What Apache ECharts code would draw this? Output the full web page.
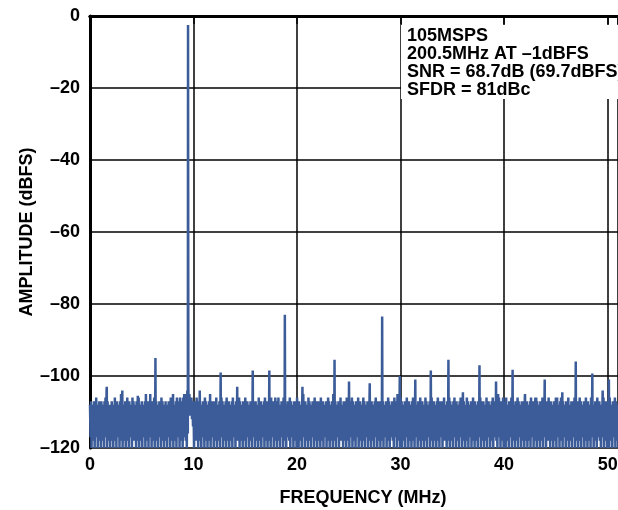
<!DOCTYPE html>
<html><head><meta charset="utf-8">
<script src="https://cdn.jsdelivr.net/npm/echarts@6/dist/echarts.min.js"></script>
<style>html,body{margin:0;padding:0;background:#fff}#c{width:618px;height:510px}</style>
</head><body><div id="c"></div>
<script>
// noise floor: upper points at i*0.1 MHz, lower points at i*0.1+0.05 MHz
const noiseStep = 0.1;
const noiseHigh = [
-108,-107,-108,-109,-107,-108,-106,-108,-109,-107,-108,-107,-109,-108,-107,-106,-104,-107,-108,-109,
-108,-107,-109,-108,-106,-108,-107,-109,-108,-107,-105,-107,-108,-109,-107,-108,-106,-108,-107,-109,
-108,-106,-107,-109,-108,-107,-108,-106,-109,-108,-107,-108,-109,-107,-105,-108,-107,-108,-109,-107,
-108,-107,-106,-108,-107,-109,-108,-107,-108,-106,-107,-109,-108,-107,-108,-109,-107,-108,-106,-108,
-107,-108,-109,-107,-106,-108,-107,-106,-108,-107,-106,-105,-107,-105,-104,-103,-105,-107,-106,-107,
-108,-107,-109,-106,-108,-107,-104,-108,-109,-107,-108,-106,-107,-108,-109,-107,-105,-108,-107,-108,
-107,-108,-106,-109,-108,-107,-108,-106,-107,-109,-108,-107,-106,-108,-107,-109,-108,-107,-106,-108,
-108,-107,-109,-108,-106,-107,-108,-109,-107,-108,-106,-108,-107,-109,-108,-107,-108,-106,-107,-108,
-107,-108,-109,-106,-108,-107,-108,-109,-107,-106,-108,-107,-109,-108,-107,-106,-108,-107,-108,-106,
-108,-107,-106,-108,-109,-107,-108,-106,-107,-108,-109,-107,-108,-106,-107,-108,-109,-107,-108,-107,
-106,-108,-107,-109,-108,-107,-105,-108,-107,-109,-108,-106,-107,-108,-109,-107,-108,-106,-108,-107,
-108,-107,-109,-106,-108,-107,-108,-109,-107,-108,-106,-107,-109,-108,-107,-105,-108,-107,-108,-109,
-107,-108,-106,-108,-109,-107,-108,-107,-106,-108,-109,-107,-108,-106,-107,-109,-108,-107,-108,-106,
-108,-107,-109,-108,-106,-107,-108,-109,-107,-108,-106,-108,-107,-109,-108,-107,-106,-108,-107,-108,
-107,-108,-106,-107,-109,-108,-107,-108,-106,-107,-108,-109,-107,-108,-106,-107,-108,-105,-107,-108,
-106,-107,-108,-109,-107,-108,-106,-108,-107,-109,-108,-107,-106,-108,-107,-108,-109,-107,-108,-106,
-108,-107,-109,-108,-106,-107,-108,-109,-107,-108,-106,-108,-107,-109,-108,-107,-106,-108,-107,-108,
-107,-108,-106,-109,-108,-107,-108,-106,-107,-109,-108,-107,-106,-108,-107,-109,-108,-107,-106,-108,
-108,-107,-109,-108,-106,-107,-108,-109,-107,-108,-106,-108,-107,-109,-108,-107,-108,-106,-107,-108,
-107,-108,-109,-106,-108,-107,-108,-109,-107,-106,-108,-107,-109,-108,-107,-106,-108,-107,-108,-106,
-108,-107,-106,-108,-109,-107,-108,-106,-107,-108,-109,-107,-108,-106,-107,-108,-109,-107,-108,-107,
-106,-108,-107,-109,-108,-107,-106,-108,-107,-109,-108,-106,-107,-108,-109,-107,-108,-106,-108,-107,
-108,-107,-109,-106,-108,-107,-108,-109,-107,-108,-106,-107,-109,-108,-107,-106,-108,-107,-108,-109,
-107,-108,-106,-108,-109,-107,-108,-107,-106,-108,-109,-107,-108,-106,-107,-109,-108,-107,-108,-106,
-108,-107,-109,-108,-106,-107,-108,-109,-107,-108,-106,-108,-107,-109,-108,-107,-106,-108,-107,-108,
-107,-108,-106,-109,-108,-107,-108,-106,-107,-109,-108
];
const noiseLow = [
-117,-120,-116,-118,-120,-117,-115,-120,-118,-116,-120,-117,-118,-120,-116,-117,-120,-118,-115,-120,
-118,-116,-120,-117,-118,-120,-116,-117,-120,-118,-115,-120,-117,-118,-120,-116,-118,-120,-117,-116,
-120,-117,-118,-116,-120,-118,-115,-120,-117,-118,-120,-116,-117,-120,-118,-116,-120,-117,-115,-120,
-118,-117,-120,-116,-118,-120,-117,-115,-120,-118,-116,-120,-117,-118,-120,-116,-117,-120,-118,-116,
-120,-117,-118,-120,-116,-117,-120,-118,-115,-120,-117,-116,-118,-120,-116,-111,-110,-111,-112,-114,
-120,-117,-118,-116,-120,-117,-118,-120,-116,-117,-120,-118,-115,-120,-117,-118,-120,-116,-117,-120,
-118,-116,-120,-117,-118,-120,-116,-117,-120,-118,-115,-120,-117,-118,-120,-116,-118,-120,-117,-116,
-120,-117,-118,-116,-120,-118,-115,-120,-117,-118,-120,-116,-117,-120,-118,-116,-120,-117,-115,-120,
-118,-117,-120,-116,-118,-120,-117,-115,-120,-118,-116,-120,-117,-118,-120,-116,-117,-120,-118,-116,
-120,-117,-118,-120,-116,-117,-120,-118,-115,-120,-117,-116,-118,-120,-117,-116,-120,-118,-117,-120,
-117,-120,-116,-118,-120,-117,-115,-120,-118,-116,-120,-117,-118,-120,-116,-117,-120,-118,-115,-120,
-118,-116,-120,-117,-118,-120,-116,-117,-120,-118,-115,-120,-117,-118,-120,-116,-118,-120,-117,-116,
-120,-117,-118,-116,-120,-118,-115,-120,-117,-118,-120,-116,-117,-120,-118,-116,-120,-117,-115,-120,
-118,-117,-120,-116,-118,-120,-117,-115,-120,-118,-116,-120,-117,-118,-120,-116,-117,-120,-118,-116,
-120,-117,-118,-120,-116,-117,-120,-118,-115,-120,-117,-116,-118,-120,-117,-116,-120,-118,-117,-120,
-117,-120,-116,-118,-120,-117,-115,-120,-118,-116,-120,-117,-118,-120,-116,-117,-120,-118,-115,-120,
-118,-116,-120,-117,-118,-120,-116,-117,-120,-118,-115,-120,-117,-118,-120,-116,-118,-120,-117,-116,
-120,-117,-118,-116,-120,-118,-115,-120,-117,-118,-120,-116,-117,-120,-118,-116,-120,-117,-115,-120,
-118,-117,-120,-116,-118,-120,-117,-115,-120,-118,-116,-120,-117,-118,-120,-116,-117,-120,-118,-116,
-120,-117,-118,-120,-116,-117,-120,-118,-115,-120,-117,-116,-118,-120,-117,-116,-120,-118,-117,-120,
-117,-120,-116,-118,-120,-117,-115,-120,-118,-116,-120,-117,-118,-120,-116,-117,-120,-118,-115,-120,
-118,-116,-120,-117,-118,-120,-116,-117,-120,-118,-115,-120,-117,-118,-120,-116,-118,-120,-117,-116,
-120,-117,-118,-116,-120,-118,-115,-120,-117,-118,-120,-116,-117,-120,-118,-116,-120,-117,-115,-120,
-118,-117,-120,-116,-118,-120,-117,-115,-120,-118,-116,-120,-117,-118,-120,-116,-117,-120,-118,-116,
-120,-117,-118,-120,-116,-117,-120,-118,-115,-120,-117,-116,-118,-120,-117,-116,-120,-118,-117,-120,
-117,-120,-116,-118,-120,-117,-115,-120,-118,-116,-120
];
// spurs: [frequency MHz, amplitude dBFS]
const spurs = [
[1.62,-103],[3.12,-104],[4.62,-105.5],[5.82,-105],[6.32,-95],[8.02,-105],[9.47,-2.5],[12.62,-99],
[14.22,-103],[15.72,-98.5],[17.32,-98.5],[18.82,-83],[20.52,-103],[23.62,-95.5],[25.02,-101.5],
[27.02,-102],[28.22,-83.5],[29.92,-100],[31.42,-101],[32.92,-98.5],[34.62,-95.5],[36.02,-104.5],
[37.62,-97],[39.22,-101.5],[39.42,-105],[40.82,-98.3],[42.02,-105],[43.02,-106],[43.92,-101],
[45.12,-106],[45.62,-104.5],[46.92,-96],[48.52,-99.3],[49.52,-104],[50.12,-101]
];
const xTicks = [0,10,20,30,40,50];
const yTicks = [0,-20,-40,-60,-80,-100,-120];
const infoLines = ['105MSPS','200.5MHz AT \u20131dBFS','SNR = 68.7dB (69.7dBFS)','SFDR = 81dBc'];

const data = [];
noiseHigh.forEach((v,i)=>data.push([+(i*noiseStep).toFixed(3), v]));
noiseLow.forEach((v,i)=>data.push([+(i*noiseStep+noiseStep/2).toFixed(3), v]));
spurs.forEach(s=>data.push([s[0],s[1]]));
data.sort((a,b)=>a[0]-b[0]);

const FONT = '"Liberation Sans", Arial, sans-serif';
const chart = echarts.init(document.getElementById('c'));
chart.setOption({
  animation:false,
  grid:{left:90,right:0,top:16,bottom:62,containLabel:false,outerBoundsMode:'none'},
  xAxis:[{
    type:'value',min:0,max:51,interval:10,
    axisLine:{show:true,lineStyle:{color:'#000',width:3}},
    axisTick:{show:false},
    axisLabel:{color:'#000',fontFamily:FONT,fontWeight:'bold',fontSize:18,margin:8,
      formatter:v=>xTicks.includes(v)?String(v):''},
    splitLine:{show:true,lineStyle:{color:'#000',width:1.5}},
    name:'FREQUENCY (MHz)',nameLocation:'middle',nameGap:41,nameMoveOverlap:false,
    nameTextStyle:{color:'#000',fontFamily:FONT,fontWeight:'bold',fontSize:18,padding:[0,0,0,18]}
  },{
    type:'value',position:'top',min:0,max:51,interval:10,
    axisLine:{show:true,onZero:false,lineStyle:{color:'#000',width:3}},
    axisTick:{show:true,inside:true,length:8,lineStyle:{color:'#000',width:1.5}},
    axisLabel:{show:false},splitLine:{show:false}
  }],
  yAxis:{
    type:'value',min:-120,max:0,interval:20,
    axisLine:{show:true,lineStyle:{color:'#000',width:3}},
    axisTick:{show:false},
    axisLabel:{color:'#000',fontFamily:FONT,fontWeight:'bold',fontSize:18,margin:10,
      formatter:v=>yTicks.includes(v)?(v<0?'\u2013'+Math.abs(v):String(v)):''},
    splitLine:{show:true,lineStyle:{color:'#000',width:1.5}},
    name:'AMPLITUDE (dBFS)',nameLocation:'middle',nameGap:54,nameRotate:90,nameMoveOverlap:false,
    nameTextStyle:{color:'#000',fontFamily:FONT,fontWeight:'bold',fontSize:18}
  },
  series:[{
    type:'line',data:data,showSymbol:false,symbol:'none',
    lineStyle:{color:'#3B5C99',width:2.5},z:3,clip:true
  }],
  graphic:[
    {type:'rect',left:401,top:25,shape:{width:217,height:74},style:{fill:'#fff'},z:10},
    {type:'text',left:407,top:27,z:11,style:{
      text:infoLines.join('\n'),fill:'#000',font:'bold 18px '+FONT,lineHeight:18}}
  ]
});
</script></body></html>
